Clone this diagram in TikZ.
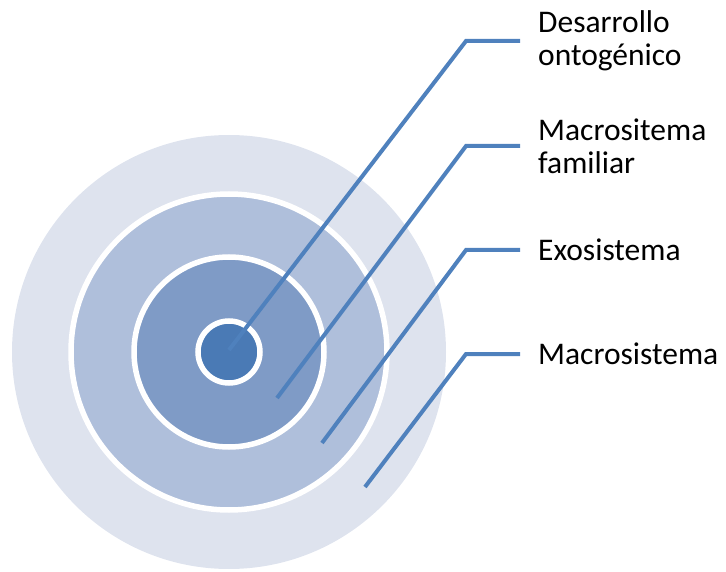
\documentclass[tikz,border=0pt]{standalone}
\usepackage{fontspec}
\setmainfont{Carlito}
\definecolor{ring1}{HTML}{DEE3EE}
\definecolor{ring2}{HTML}{AFBFDB}
\definecolor{ring3}{HTML}{7F9BC6}
\definecolor{ring4}{HTML}{4A7AB5}
\definecolor{conn}{HTML}{4F81BD}
\begin{document}
\begin{tikzpicture}[x=1pt,y=-1pt,
  disc/.style={circle,inner sep=0pt,draw=white,line width=5.5pt},
  leader/.style={draw=conn,line width=4pt},
  lbl/.style={anchor=west,inner sep=0pt,align=left,text=black,font=\fontsize{31.5}{33}\selectfont}]
\useasboundingbox (0,0) rectangle (726,572);
\node[circle,inner sep=0pt,fill=ring1,minimum size=434pt] (c1) at (229,352) {};
\node[disc,fill=ring2,minimum size=316pt] (c2) at (229,352) {};
\node[disc,fill=ring3,minimum size=190pt] (c3) at (229,352) {};
\node[disc,fill=ring4,minimum size=62pt] (c4) at (229,352) {};
\coordinate (s1) at (229,350);
\coordinate (s2) at (277,398);
\coordinate (s3) at (322,443);
\coordinate (s4) at (365,487);
\coordinate (b1) at (466,41);
\coordinate (b2) at (466,146);
\coordinate (b3) at (466,250);
\coordinate (b4) at (466,354);
\coordinate (e1) at (520,41);
\coordinate (e2) at (520,146);
\coordinate (e3) at (520,250);
\coordinate (e4) at (520,354);
\draw[leader] (s1) -- (b1) -- (e1);
\draw[leader] (s2) -- (b2) -- (e2);
\draw[leader] (s3) -- (b3) -- (e3);
\draw[leader] (s4) -- (b4) -- (e4);
\node[lbl] (t1) at (538,41) {Desarrollo\\ontogénico};
\node[lbl] (t2) at (538,146) {Macrositema\\familiar};
\node[lbl] (t3) at (538,250) {Exosistema};
\node[lbl] (t4) at (538,354) {Macrosistema};
\end{tikzpicture}
\end{document}
